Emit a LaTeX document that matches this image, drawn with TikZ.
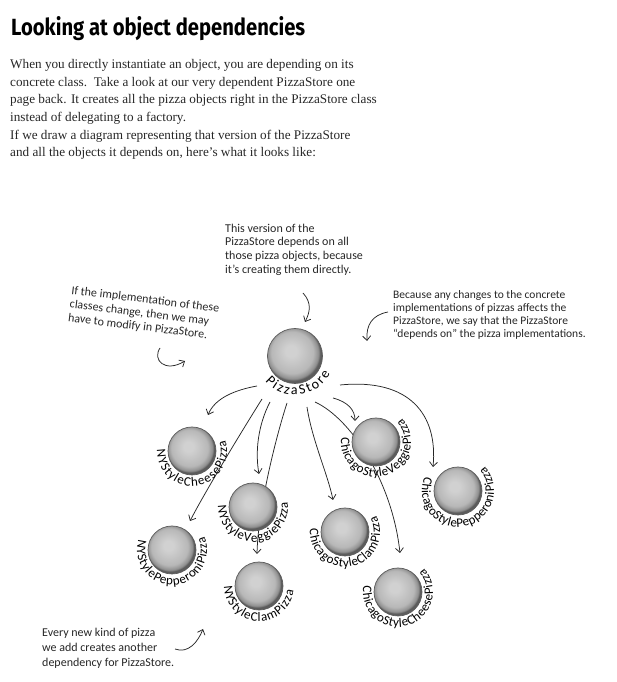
\documentclass[tikz,border=0pt]{standalone}
\usepackage{fontspec}
\setmainfont{Liberation Serif}
\newfontfamily\handfont{Carlito}
\newfontfamily\titlefont{Fira Sans}
\usetikzlibrary{arrows.meta,decorations.text}

\definecolor{pbA}{gray}{0.82}
\definecolor{pbB}{gray}{0.72}
\definecolor{pbC}{gray}{0.56}
\definecolor{pbD}{gray}{0.36}
\definecolor{ink}{gray}{0.15}
\pgfdeclareradialshading{pizzaball}{\pgfpoint{-4bp}{5bp}}{color(0bp)=(pbA); color(5bp)=(pbA); color(19bp)=(pbB); color(23.5bp)=(pbC); color(25bp)=(pbD); color(50bp)=(pbD)}
\newcommand{\lblfont}{\handfont\fontsize{13}{13}\selectfont}
\newcommand{\bigfont}{\handfont\fontsize{14}{14}\selectfont}

\begin{document}
\begin{tikzpicture}[x=1pt,y=1pt,
  ball/.style={circle, inner sep=0pt, minimum size=48pt, shade, shading=pizzaball, draw=pbD, line width=0.7pt},
  conn/.style={draw=ink, line width=0.75pt, -{Straight Barb[length=4.5pt,width=8pt]}},
  note/.style={inner sep=0pt, align=left, text=ink, font=\handfont\fontsize{12}{13.8}\selectfont},
  body/.style={inner sep=0pt, align=left, text=black!85, font=\fontsize{13.2}{17.5}\selectfont},
  lbl/.style={decorate, decoration={text along path, text align={fit to path}, text color=black, text={|\lblfont|#1}}},
  lblbig/.style={decorate, decoration={text along path, text align={fit to path}, text color=black, text={|\bigfont|#1}}},
]
\useasboundingbox (0,0) rectangle (617,682);

% title and text (base anchor = last line)
\node[anchor=base west, inner sep=0pt] (title) at (11,646)
  {\resizebox{294pt}{19pt}{\titlefont\bfseries Looking at object dependencies}};
\node[body, anchor=base west] (p1) at (10,560.5)
  {When you directly instantiate an object, you are depending on its\\
   concrete class.\ \ Take a look at our very dependent PizzaStore one\\
   page back. It creates all the pizza objects right in the PizzaStore class\\
   instead of delegating to a factory.};
\node[body, anchor=base west] (p2) at (10,525)
  {If we draw a diagram representing that version of the PizzaStore\\
   and all the objects it depends on, here’s what it looks like:};

% annotations
\node[note, anchor=base west] (n1) at (225,408.5)
  {This version of the\\ PizzaStore depends on all\\ those pizza objects, because\\ it’s creating them directly.};
\node[note, anchor=base west, rotate=-7] (n2) at (67.6,360.6)
  {If the implementation of these\\ classes change, then we may\\ have to modify in PizzaStore.};
\node[note, anchor=base west, font=\handfont\fontsize{11.5}{13}\selectfont] (n3) at (393,344)
  {Because any changes to the concrete\\ implementations of pizzas affects the\\ PizzaStore, we say that the PizzaStore\\ “depends on” the pizza implementations.};
\node[note, anchor=base west, font=\handfont\fontsize{12}{15}\selectfont] (n4) at (42,15)
  {Every new kind of pizza\\ we add creates another\\ dependency for PizzaStore.};

% annotation arrows
\coordinate (a1s) at (303,389); \coordinate (a1e) at (305,360);
\draw[conn] (a1s) .. controls (312,379) and (310,370) .. (a1e);
\coordinate (a2s) at (388,370); \coordinate (a2e) at (367,341);
\draw[conn] (a2s) .. controls (372,367) and (366,357) .. (a2e);
\coordinate (a3s) at (160,334); \coordinate (a3e) at (185,321);
\draw[conn] (a3s) .. controls (152,322) and (165,309) .. (a3e);
\coordinate (a4s) at (175,33); \coordinate (a4e) at (203,53);
\draw[conn] (a4s) .. controls (188,28) and (198,40) .. (a4e);

% ball centres
\path (295,326) coordinate (psc) (192,231) coordinate (nychc) (253,175) coordinate (nyvc)
      (172,132) coordinate (nypc) (259,96) coordinate (nycc) (376,240) coordinate (chvc)
      (458,191) coordinate (chpc) (345,150) coordinate (chcc) (398,90) coordinate (chchc);

% connectors
\draw[conn] ([shift={(-38,-30)}]psc) .. controls (235,292) and (215,284) .. ([shift={(16,36)}]nychc);
\draw[conn] ([shift={(-33,-43)}]psc) .. controls (240,248) and (205,190) .. ([shift={(18,29)}]nypc);
\draw[conn] ([shift={(-25,-46)}]psc) .. controls (258,257) and (255,230) .. ([shift={(6,33)}]nyvc);
\draw[conn] ([shift={(-8,-47)}]psc) .. controls (275,242) and (258,172) .. ([shift={(-2,32)}]nycc);
\draw[conn] ([shift={(12,-51)}]psc) .. controls (312,242) and (328,207) .. ([shift={(-12,32)}]chcc);
\draw[conn] ([shift={(20,-46)}]psc) .. controls (350,264) and (392,202) .. ([shift={(2,39)}]chchc);
\draw[conn] ([shift={(38,-42)}]psc) .. controls (348,280) and (355,272) .. ([shift={(-21,21)}]chvc);
\draw[conn] ([shift={(45,-29)}]psc) .. controls (410,304) and (438,267) .. ([shift={(-25,24)}]chpc);

% balls
\node[ball, minimum size=55pt] (ps) at (psc) {};
\node[ball] (nych) at (nychc) {};
\node[ball] (nyv) at (nyvc) {};
\node[ball] (nyp) at (nypc) {};
\node[ball] (nyc) at (nycc) {};
\node[ball] (chv) at (chvc) {};
\node[ball] (chp) at (chpc) {};
\node[ball] (chc) at (chcc) {};
\node[ball] (chch) at (chchc) {};

% curved labels
\path[lblbig=PizzaStore] ([shift={(220:39)}]ps.center) arc[start angle=220, end angle=334, radius=39];
\path[lbl=NYStyleCheesePizza] ([shift={(178:35)}]nych.center) arc[start angle=178, end angle=378, radius=35];
\path[lbl=NYStyleVeggiePizza] ([shift={(178:35)}]nyv.center) arc[start angle=178, end angle=368, radius=35];
\path[lbl=NYStylePepperoniPizza] ([shift={(163:35)}]nyp.center) arc[start angle=163, end angle=382, radius=35];
\path[lbl=NYStyleClamPizza] ([shift={(180:35)}]nyc.center) arc[start angle=180, end angle=352, radius=35];
\path[lbl=ChicagoStyleVeggiePizza] ([shift={(173:35)}]chv.center) arc[start angle=173, end angle=402, radius=35];
\path[lbl=ChicagoStylePepperoniPizza] ([shift={(156:36)}]chp.center) arc[start angle=156, end angle=402, radius=36];
\path[lbl=ChicagoStyleClamPizza] ([shift={(175:35)}]chc.center) arc[start angle=175, end angle=387, radius=35];
\path[lbl=ChicagoStyleCheesePizza] ([shift={(170:35)}]chch.center) arc[start angle=170, end angle=402, radius=35];
\end{tikzpicture}
\end{document}
